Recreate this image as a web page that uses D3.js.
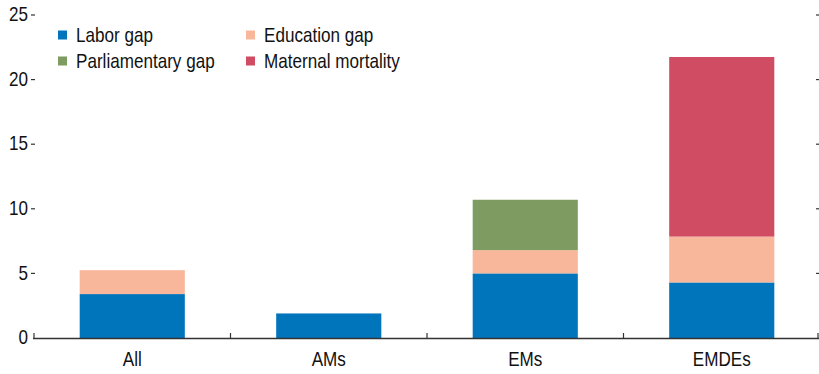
<!DOCTYPE html>
<html><head><meta charset="utf-8">
<script src="https://cdn.jsdelivr.net/npm/d3@7"></script>
<style>body{margin:0;background:#fff}svg{display:block}text{font-family:"Liberation Sans Narrow","Liberation Sans",Arial,sans-serif;fill:#111}</style>
</head><body><svg id="c" width="819" height="374"></svg>
<script>
const categories = ["All","AMs","EMs","EMDEs"];
const seriesNames = ["Labor gap","Education gap","Parliamentary gap","Maternal mortality"];
const laborGap = [3.4, 1.9, 5.0, 4.3];
const educationGap = [1.85, 0, 1.8, 3.55];
const parliamentaryGap = [0, 0, 3.9, 0];
const maternalMortality = [0, 0, 0, 13.9];
const yTicks = [0,5,10,15,20,25];
const colors = ["#0075BC","#F8B79A","#7E9B62","#CF4C62"];

const FS = 20, SX = 0.855;
const svg = d3.select("#c");
const y = d3.scaleLinear().domain([0,25]).range([338,15]);
const xSlot = d3.scaleBand().domain(categories).range([34,820]).padding(0);
const xBar = d3.scaleBand().domain(categories).range([34,820]).paddingInner(0.465).paddingOuter(0.2325);

const rows = categories.map((c,i)=>({cat:c, "Labor gap":laborGap[i], "Education gap":educationGap[i], "Parliamentary gap":parliamentaryGap[i], "Maternal mortality":maternalMortality[i]}));
const stacked = d3.stack().keys(seriesNames)(rows);

svg.append("g").selectAll("g").data(stacked).join("g").attr("fill",(d,i)=>colors[i])
  .selectAll("rect").data(d=>d).join("rect")
  .attr("x",d=>xBar(d.data.cat)).attr("width",xBar.bandwidth())
  .attr("y",d=>y(d[1])).attr("height",d=>Math.max(0,y(d[0])-y(d[1])));

function label(sel, xf, yf, anchor, dy){
  const g = sel.append("g").attr("transform",(d,i)=>`translate(${xf(d,i)},${yf(d,i)}) scale(${SX},1)`);
  return g.append("text").attr("text-anchor",anchor).attr("dy",dy).attr("font-size",FS);
}

// left ticks
const gl = svg.append("g");
gl.selectAll("line").data(yTicks.filter(t=>t>0)).join("line")
  .attr("x1",31).attr("x2",35).attr("y1",d=>y(d)).attr("y2",d=>y(d)).attr("stroke","#333").attr("stroke-width",1.2);
label(gl.selectAll("g.t").data(yTicks).enter(), d=>28, d=>y(d)-1, "end", "0.36em").text(d=>d);

// right ticks
svg.append("g").selectAll("line").data(yTicks.filter(t=>t>0)).join("line")
  .attr("x1",816).attr("x2",819).attr("y1",d=>y(d)).attr("y2",d=>y(d)).attr("stroke","#333").attr("stroke-width",1.2);

// x axis
svg.append("line").attr("x1",33).attr("x2",819).attr("y1",338.5).attr("y2",338.5).attr("stroke","#333").attr("stroke-width",1.6);
const bounds = categories.map(c=>xSlot(c)).concat([819]);
svg.append("g").selectAll("line").data(bounds).join("line")
  .attr("x1",d=>Math.min(d,818)).attr("x2",d=>Math.min(d,818)).attr("y1",333).attr("y2",338).attr("stroke","#333").attr("stroke-width",1.2);
label(svg.append("g").selectAll("g").data(categories).enter(), d=>xSlot(d)+xSlot.bandwidth()/2, d=>366, "middle", 0).text(d=>d);

// legend
const legPos = [[58,35],[246,35],[58,61],[246,61]];
const lg = svg.append("g").selectAll("g").data(seriesNames).join("g")
  .attr("transform",(d,i)=>`translate(${legPos[i][0]},${legPos[i][1]})`);
lg.append("rect").attr("x",0).attr("y",-4.5).attr("width",9).attr("height",9).attr("fill",(d,i)=>colors[i]);
label(lg, d=>18, d=>0, "start", "0.36em").text(d=>d);
</script></body></html>
